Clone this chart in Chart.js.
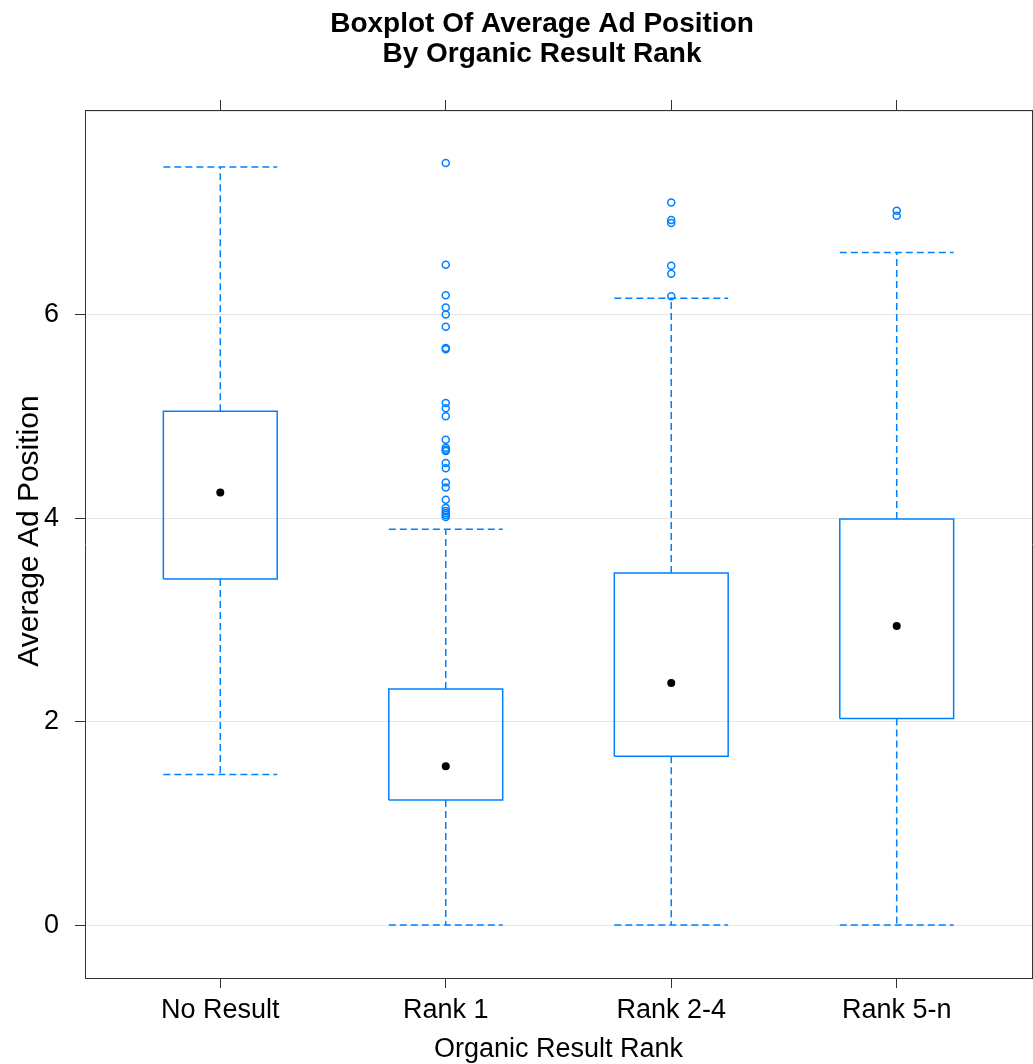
<!DOCTYPE html>
<html>
<head>
<meta charset="utf-8">
<script src="https://cdn.jsdelivr.net/npm/chart.js@4.4.1/dist/chart.umd.min.js"></script>
<style>
  html, body { margin: 0; padding: 0; background: #fff; }
  #boxChart { display: block; }
</style>
</head>
<body>
<canvas id="boxChart" width="1033" height="1064"></canvas>
<script>
/* ============================================
   DATA
   ============================================ */
const categories = ['No Result', 'Rank 1', 'Rank 2-4', 'Rank 5-n'];
const lowerWhisker = [1.48, 0, 0, 0];
const lowerQuartile = [3.40, 1.23, 1.66, 2.03];
const medians = [4.25, 1.56, 2.38, 2.94];
const upperQuartile = [5.05, 2.32, 3.46, 3.99];
const upperWhisker = [7.45, 3.89, 6.16, 6.61];

// outliers per category (index matches categories)
const outliers = [
    [],
    [7.49, 6.49, 6.19, 6.07, 6.00, 5.88, 5.67, 5.66, 5.13, 5.08, 5.00, 4.77,
     4.69, 4.67, 4.66, 4.54, 4.49, 4.35, 4.30, 4.18, 4.10, 4.07, 4.05, 4.03, 4.01],
    [7.10, 6.93, 6.90, 6.48, 6.40, 6.18],
    [7.02, 6.97]
];

const yTicks = [0, 2, 4, 6, 8];
const titleLines = ['Boxplot Of Average Ad Position', 'By Organic Result Rank'];
const xTitle = 'Organic Result Rank';
const yTitle = 'Average Ad Position';

/* ============================================
   BUILD DATASETS
   ============================================ */
const BOX_HALF = 0.2525;   // half box width in category units
const BLUE = '#0080ff';
const FONT = '"Liberation Sans", Arial, Helvetica, sans-serif';
const gap = c => ({ x: c, y: null });

const boxPts = [];
const whiskerPts = [];
categories.forEach((_, i) => {
    const c = i + 1;
    const q1 = lowerQuartile[i], q3 = upperQuartile[i];
    boxPts.push(
        { x: c - BOX_HALF, y: q1 }, { x: c + BOX_HALF, y: q1 },
        { x: c + BOX_HALF, y: q3 }, { x: c - BOX_HALF, y: q3 },
        { x: c - BOX_HALF, y: q1 }, gap(c)
    );
    whiskerPts.push(
        { x: c, y: q3 }, { x: c, y: upperWhisker[i] }, gap(c),
        { x: c - BOX_HALF, y: upperWhisker[i] }, { x: c + BOX_HALF, y: upperWhisker[i] }, gap(c),
        { x: c, y: q1 }, { x: c, y: lowerWhisker[i] }, gap(c),
        { x: c - BOX_HALF, y: lowerWhisker[i] }, { x: c + BOX_HALF, y: lowerWhisker[i] }, gap(c)
    );
});
const medianPts = medians.map((m, i) => ({ x: i + 1, y: m }));
const outlierPts = outliers.flatMap((list, i) => list.map(v => ({ x: i + 1, y: v })));

/* ============================================
   PAGE TITLES (placed like the lattice page)
   ============================================ */
const pageTitles = {
    id: 'pageTitles',
    afterDraw(chart) {
        const ctx = chart.ctx;
        ctx.save();
        ctx.fillStyle = '#000';
        ctx.textAlign = 'center';
        ctx.textBaseline = 'alphabetic';
        ctx.font = 'bold 28px ' + FONT;
        titleLines.forEach((t, i) => ctx.fillText(t, 542, 32 + i * 30));
        // y label is centred on the page, not on the panel
        ctx.font = '30px ' + FONT;
        ctx.textBaseline = 'middle';
        ctx.translate(30, 531);
        ctx.rotate(-Math.PI / 2);
        ctx.fillText(yTitle, 0, 0);
        ctx.restore();
    }
};

const categoryTicks = s => { s.ticks = categories.map((_, i) => ({ value: i + 1 })); };

/* ============================================
   CHART
   ============================================ */
new Chart(document.getElementById('boxChart'), {
    type: 'scatter',
    data: {
        datasets: [
            {
                label: 'whiskers', data: whiskerPts, showLine: true, spanGaps: false,
                borderColor: BLUE, borderWidth: 1.5, borderDash: [7, 4],
                pointRadius: 0, fill: false
            },
            {
                label: 'boxes', data: boxPts, showLine: true, spanGaps: false,
                borderColor: BLUE, borderWidth: 1.5, pointRadius: 0, fill: false
            },
            {
                label: 'outliers', data: outlierPts, showLine: false,
                pointRadius: 3.5, pointBorderWidth: 1.5,
                pointBorderColor: BLUE, pointBackgroundColor: 'rgba(255,255,255,0)'
            },
            {
                label: 'median', data: medianPts, showLine: false,
                pointRadius: 4, pointBorderWidth: 0,
                pointBackgroundColor: '#000', pointBorderColor: '#000'
            }
        ]
    },
    options: {
        responsive: false,
        animation: false,
        layout: { autoPadding: false, padding: { top: 100, left: 0, right: 0, bottom: 0 } },
        plugins: {
            legend: { display: false },
            tooltip: { enabled: false },
            title: { display: false }
        },
        scales: {
            x: {
                type: 'linear', position: 'bottom', min: 0.4, max: 4.6,
                afterBuildTicks: categoryTicks,
                afterFit: s => { s.height = 86; },
                ticks: {
                    callback: v => categories[v - 1], color: '#000',
                    font: { size: 27, family: FONT }, padding: 6, maxRotation: 0
                },
                grid: { drawOnChartArea: false, tickLength: 10, tickColor: '#333' },
                border: { display: true, color: '#333', width: 1 },
                title: {
                    display: true, text: xTitle, color: '#000',
                    font: { size: 27, family: FONT }, padding: { top: 0, bottom: -2 }
                }
            },
            xTop: {
                type: 'linear', position: 'top', min: 0.4, max: 4.6,
                afterBuildTicks: categoryTicks,
                afterFit: s => { s.height = 10; },
                ticks: { display: false },
                grid: { drawOnChartArea: false, tickLength: 10, tickColor: '#333' },
                border: { display: true, color: '#333', width: 1 }
            },
            y: {
                type: 'linear', position: 'left', min: -0.52, max: 8.01,
                afterBuildTicks: s => { s.ticks = yTicks.map(v => ({ value: v })); },
                afterFit: s => { s.width = 85; },
                ticks: {
                    callback: v => (v === 8 ? '' : v), color: '#000',
                    font: { size: 27, family: FONT }, padding: 16
                },
                grid: {
                    color: '#e6e6e6', lineWidth: 1, tickLength: 10,
                    tickColor: ctx => (ctx.tick && ctx.tick.value === 8 ? 'rgba(0,0,0,0)' : '#333')
                },
                border: { display: true, color: '#333', width: 1 }
            },
            yRight: {
                type: 'linear', position: 'right', min: -0.52, max: 8.01,
                afterFit: s => { s.width = 1; },
                ticks: { display: false },
                grid: { drawOnChartArea: false, drawTicks: false },
                border: { display: true, color: '#333', width: 1 }
            }
        }
    },
    plugins: [pageTitles]
});
</script>
</body>
</html>
